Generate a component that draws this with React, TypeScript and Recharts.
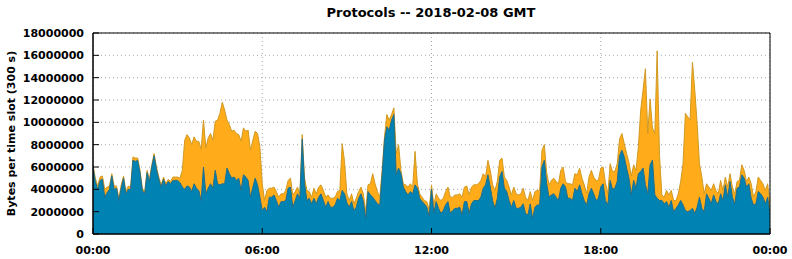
import React from 'react';
import { AreaChart, Area, XAxis, YAxis, CartesianGrid, ReferenceArea } from 'recharts';

// Total bytes per 5-minute slot (millions), read from the top of the orange layer
const totalM = [
  6.2, 5.0, 4.3, 5.1, 5.2, 4.0, 4.2, 4.3, 5.4, 4.3,
  4.3, 3.2, 4.4, 5.2, 3.8, 4.3, 4.2, 6.9, 6.8, 6.8,
  5.7, 4.1, 3.8, 5.7, 4.9, 6.2, 7.2, 6.0, 5.1, 4.4,
  5.1, 4.5, 4.9, 4.7, 5.1, 5.1, 5.1, 5.0, 5.7, 8.4,
  8.9, 8.6, 8.0, 8.7, 8.3, 8.3, 7.6, 10.2, 7.7, 8.6,
  9.0, 8.4, 10.1, 10.2, 10.8, 11.8, 11.1, 10.2, 9.8, 9.2,
  9.3, 9.0, 8.9, 8.3, 9.5, 9.2, 9.3, 7.5, 8.4, 9.2,
  9.0, 7.8, 4.5, 3.0, 3.9, 4.1, 4.1, 4.2, 3.8, 3.3,
  3.6, 3.6, 3.9, 4.8, 5.0, 3.5, 3.8, 4.2, 3.6, 8.9,
  5.0, 3.9, 3.8, 3.3, 4.1, 3.6, 4.2, 4.4, 3.9, 3.3,
  3.5, 3.2, 3.2, 3.3, 3.8, 3.9, 8.1, 6.5, 3.6, 3.0,
  3.6, 2.7, 3.2, 3.8, 4.2, 3.6, 2.0, 4.4, 4.5, 5.4,
  4.5, 3.8, 3.3, 5.7, 8.7, 10.7, 10.2, 10.7, 11.3, 7.2,
  8.0, 5.7, 4.5, 4.4, 4.2, 4.5, 4.2, 7.4, 4.5, 3.6,
  3.3, 3.0, 2.9, 2.2, 4.4, 2.6, 3.6, 3.2, 3.0, 3.2,
  3.8, 4.2, 3.3, 3.3, 3.5, 3.5, 3.6, 3.3, 4.2, 4.3,
  3.5, 4.2, 4.4, 4.4, 4.5, 4.8, 5.4, 5.1, 6.6, 5.7,
  4.4, 3.9, 4.7, 6.6, 6.8, 5.1, 4.8, 4.2, 3.5, 4.2,
  3.6, 3.5, 3.6, 4.1, 3.3, 3.0, 3.8, 3.0, 3.8, 3.9,
  3.9, 7.5, 8.0, 5.5, 4.4, 4.8, 5.0, 4.7, 4.5, 5.7,
  6.0, 4.7, 4.5, 4.5, 4.4, 5.4, 5.3, 5.9, 5.0, 4.4,
  3.6, 5.1, 5.7, 5.1, 4.8, 4.8, 5.9, 6.0, 4.6, 3.6,
  6.3, 5.6, 5.6, 6.3, 8.5, 9.0, 8.1, 7.2, 6.4, 5.2,
  6.2, 5.7, 7.8, 11.1, 12.9, 14.8, 9.0, 12.1, 9.5, 9.0,
  16.4, 7.0, 3.5, 3.3, 3.9, 3.5, 3.9, 3.0, 3.0, 3.6,
  4.7, 6.3, 10.8, 10.5, 10.2, 15.4, 12.9, 9.9, 6.3, 5.1,
  3.6, 4.5, 4.2, 3.9, 4.5, 3.9, 3.6, 4.8, 3.9, 5.1,
  4.2, 5.4, 4.2, 3.6, 4.7, 4.8, 6.2, 5.7, 4.7, 5.1,
  4.5, 3.3, 3.8, 5.1, 4.8, 4.5, 3.9, 4.5, 2.6,
];

// Bytes per slot of the blue (lower) protocol layer (millions)
const blueM = [
  6.0, 4.7, 4.0, 4.8, 4.9, 3.3, 3.7, 4.0, 5.2, 4.0,
  4.1, 3.0, 4.1, 5.0, 3.6, 4.0, 4.0, 6.6, 6.5, 6.6,
  5.5, 3.9, 3.6, 5.5, 4.7, 6.0, 7.0, 5.8, 4.9, 4.2,
  4.9, 4.3, 4.7, 4.5, 4.8, 4.8, 4.8, 4.6, 4.2, 4.0,
  4.3, 4.2, 3.8, 4.5, 4.1, 3.9, 3.0, 6.0, 3.6, 4.1,
  4.5, 4.1, 5.7, 4.5, 4.4, 4.5, 4.5, 5.9, 5.4, 5.0,
  5.1, 4.8, 5.0, 3.9, 5.3, 5.1, 4.8, 3.3, 4.2, 5.0,
  4.4, 3.3, 2.1, 2.4, 2.0, 3.3, 3.3, 3.5, 3.0, 2.4,
  2.9, 2.9, 3.0, 4.1, 4.2, 2.4, 3.0, 3.6, 3.2, 8.5,
  4.5, 3.0, 3.2, 2.7, 3.2, 2.7, 3.3, 3.6, 3.0, 2.4,
  2.9, 2.4, 2.4, 2.6, 3.2, 3.0, 3.9, 3.6, 2.8, 2.4,
  2.9, 2.1, 2.4, 3.2, 3.6, 2.9, 1.4, 3.8, 3.5, 3.3,
  3.0, 2.7, 2.6, 5.3, 8.4, 9.6, 9.3, 10.2, 10.7, 5.3,
  5.9, 5.4, 4.2, 3.8, 3.5, 3.8, 3.6, 4.4, 4.1, 3.2,
  2.9, 2.7, 2.4, 1.6, 4.0, 1.9, 2.9, 2.3, 1.85, 2.1,
  2.6, 2.9, 1.85, 2.1, 2.3, 2.3, 2.4, 1.7, 2.9, 2.9,
  1.85, 2.7, 3.0, 3.0, 3.0, 3.3, 4.1, 4.4, 5.3, 4.2,
  3.0, 2.3, 3.2, 5.1, 5.6, 4.1, 3.8, 3.0, 2.4, 3.0,
  2.3, 2.3, 2.4, 2.7, 1.85, 1.7, 2.7, 1.4, 2.4, 2.6,
  2.6, 6.0, 6.6, 4.5, 3.3, 3.5, 3.6, 3.3, 3.0, 4.1,
  4.5, 4.2, 3.2, 3.2, 3.0, 4.1, 3.8, 4.4, 3.6, 3.0,
  2.6, 3.6, 4.1, 3.6, 3.0, 3.2, 4.2, 4.5, 3.0, 2.6,
  4.8, 4.0, 4.1, 4.7, 7.0, 7.5, 6.9, 5.9, 5.0, 3.5,
  4.8, 4.1, 5.4, 5.6, 5.9, 4.4, 3.6, 6.2, 6.6, 3.5,
  3.2, 3.0, 3.0, 2.7, 2.9, 2.4, 3.0, 2.0, 2.3, 2.6,
  3.0, 2.6, 2.1, 2.0, 2.1, 2.3, 1.85, 2.4, 3.3, 2.3,
  2.0, 3.6, 3.2, 2.7, 3.5, 2.9, 2.7, 3.6, 3.0, 4.4,
  3.3, 4.7, 3.3, 2.7, 4.1, 4.2, 5.3, 5.0, 4.2, 4.5,
  3.2, 2.6, 2.7, 3.8, 3.6, 3.3, 2.7, 3.3, 1.85,
];

const xTickSlots = [0, 72, 144, 216, 288];
const xTickLabels = ['00:00', '06:00', '12:00', '18:00', '00:00'];
const yTickValues = [0, 2, 4, 6, 8, 10, 12, 14, 16, 18];
const yTickLabels = ['0', '2000000', '4000000', '6000000', '8000000', '10000000', '12000000', '14000000', '16000000', '18000000'];

const titleText = 'Protocols -- 2018-02-08 GMT';
const yAxisTitle = 'Bytes per time slot (300 s)';

const data = totalM.map((t, i) => ({ slot: i, total: t, blue: blueM[i] }));

const FONT = '"DejaVu Sans", Verdana, sans-serif';

const BottomTick = (props: any) => {
  const { x, y, payload } = props;
  const idx = xTickSlots.indexOf(payload.value);
  return (
    <g>
      <line x1={x} y1={y} x2={x} y2={y - 6} stroke="#000" strokeWidth={1} />
      <text x={x} y={y + 20} textAnchor="middle" fontFamily={FONT} fontWeight="bold" fontSize={11} fill="#000">
        {xTickLabels[idx]}
      </text>
    </g>
  );
};

const TopTick = (props: any) => {
  const { x, y } = props;
  return <line x1={x} y1={y} x2={x} y2={y + 6} stroke="#000" strokeWidth={1} />;
};

const LeftTick = (props: any) => {
  const { x, y, payload } = props;
  const idx = yTickValues.indexOf(payload.value);
  return (
    <g>
      <line x1={x} y1={y} x2={x + 6} y2={y} stroke="#000" strokeWidth={1} />
      <text x={x - 9} y={y} dy="0.36em" textAnchor="end" fontFamily={FONT} fontWeight="bold" fontSize={11} fill="#000">
        {yTickLabels[idx]}
      </text>
    </g>
  );
};

const RightTick = (props: any) => {
  const { x, y } = props;
  return <line x1={x - 6} y1={y} x2={x} y2={y} stroke="#000" strokeWidth={1} />;
};

export default function App() {
  return (
    <div style={{ position: 'absolute', left: 0, top: 0, width: 792, height: 259, background: '#fff' }}>
      <AreaChart width={792} height={259} data={data} margin={{ top: 33, right: 22, bottom: 0, left: 0 }}>
        <CartesianGrid stroke="#a8a8a8" strokeDasharray="1 3" />
        <XAxis
          dataKey="slot"
          type="number"
          domain={[0, 288]}
          ticks={xTickSlots}
          interval={0}
          height={25}
          tickSize={0}
          tickMargin={0}
          tick={<BottomTick />}
          tickLine={false}
          axisLine={{ stroke: '#000', strokeWidth: 1 }}
          allowDataOverflow
        />
        <XAxis
          xAxisId="top"
          orientation="top"
          dataKey="slot"
          type="number"
          domain={[0, 288]}
          ticks={xTickSlots}
          interval={0}
          height={0}
          tickSize={0}
          tickMargin={0}
          tick={<TopTick />}
          tickLine={false}
          axisLine={{ stroke: '#000', strokeWidth: 1 }}
          allowDataOverflow
        />
        <YAxis
          type="number"
          domain={[0, 18]}
          ticks={yTickValues}
          interval={0}
          width={93}
          tickSize={0}
          tickMargin={0}
          tick={<LeftTick />}
          tickLine={false}
          axisLine={{ stroke: '#000', strokeWidth: 1 }}
          allowDataOverflow
        />
        <YAxis
          yAxisId="right"
          orientation="right"
          type="number"
          domain={[0, 18]}
          ticks={yTickValues}
          interval={0}
          width={0}
          tickSize={0}
          tickMargin={0}
          tick={<RightTick />}
          tickLine={false}
          axisLine={{ stroke: '#000', strokeWidth: 1 }}
          allowDataOverflow
        />
        <Area
          xAxisId="top"
          yAxisId="right"
          type="linear"
          dataKey="total"
          stroke="none"
          fill="none"
          dot={false}
          activeDot={false}
          isAnimationActive={false}
          legendType="none"
        />
        <Area
          type="linear"
          dataKey="total"
          stroke="#d09a22"
          strokeWidth={1}
          fill="#ffab1a"
          fillOpacity={1}
          dot={false}
          activeDot={false}
          isAnimationActive={false}
        />
        <Area
          type="linear"
          dataKey="blue"
          stroke="#1f6e8e"
          strokeWidth={1}
          fill="#0082b2"
          fillOpacity={1}
          dot={false}
          activeDot={false}
          isAnimationActive={false}
        />
        <ReferenceArea
          x1={0}
          x2={288}
          y1={0}
          y2={18}
          fill="none"
          fillOpacity={0}
          stroke="#000"
          strokeWidth={1}
          ifOverflow="visible"
        />
      </AreaChart>
      <svg width={792} height={259} style={{ position: 'absolute', left: 0, top: 0, pointerEvents: 'none' }}>
        <text x={431} y={16.5} textAnchor="middle" fontFamily={FONT} fontWeight="bold" fontSize={13} fill="#000">
          {titleText}
        </text>
        <text transform="translate(14.5,133.5) rotate(-90)" textAnchor="middle" fontFamily={FONT} fontWeight="bold" fontSize={11} fill="#000">
          {yAxisTitle}
        </text>
      </svg>
    </div>
  );
}
